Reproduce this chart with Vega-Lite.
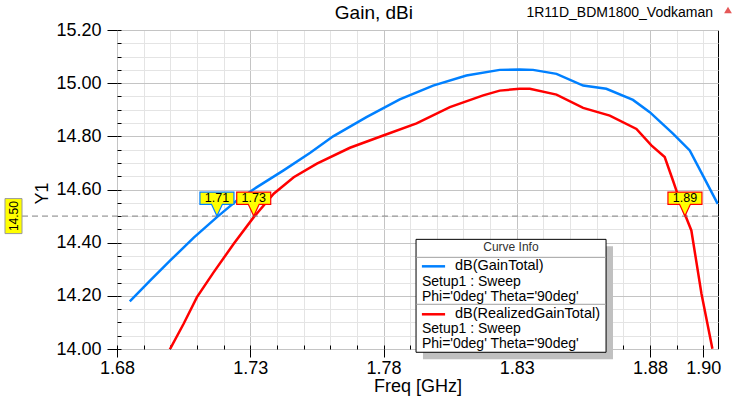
{
  "$schema": "https://vega.github.io/schema/vega-lite/v6.json",
  "width": 601,
  "height": 319,
  "autosize": {"type": "none"},
  "padding": {"left": 117, "top": 30, "right": 25, "bottom": 49},
  "background": "white",
  "config": {
    "font": "Liberation Sans",
    "view": {"stroke": "#000000", "strokeWidth": 1}
  },
  "resolve": {"axis": {"x": "independent", "y": "independent"}},
  "datasets": {
    "curves": [
      {"freq": 1.6848, "gain": 14.179, "series": "dB(GainTotal)"},
      {"freq": 1.6925, "gain": 14.258, "series": "dB(GainTotal)"},
      {"freq": 1.7000, "gain": 14.333, "series": "dB(GainTotal)"},
      {"freq": 1.7088, "gain": 14.419, "series": "dB(GainTotal)"},
      {"freq": 1.7175, "gain": 14.496, "series": "dB(GainTotal)"},
      {"freq": 1.7250, "gain": 14.559, "series": "dB(GainTotal)"},
      {"freq": 1.7325, "gain": 14.609, "series": "dB(GainTotal)"},
      {"freq": 1.7425, "gain": 14.672, "series": "dB(GainTotal)"},
      {"freq": 1.7525, "gain": 14.738, "series": "dB(GainTotal)"},
      {"freq": 1.7611, "gain": 14.800, "series": "dB(GainTotal)"},
      {"freq": 1.7736, "gain": 14.872, "series": "dB(GainTotal)"},
      {"freq": 1.7861, "gain": 14.939, "series": "dB(GainTotal)"},
      {"freq": 1.7986, "gain": 14.991, "series": "dB(GainTotal)"},
      {"freq": 1.8111, "gain": 15.029, "series": "dB(GainTotal)"},
      {"freq": 1.8236, "gain": 15.050, "series": "dB(GainTotal)"},
      {"freq": 1.8311, "gain": 15.051, "series": "dB(GainTotal)"},
      {"freq": 1.8361, "gain": 15.050, "series": "dB(GainTotal)"},
      {"freq": 1.8449, "gain": 15.035, "series": "dB(GainTotal)"},
      {"freq": 1.8549, "gain": 14.991, "series": "dB(GainTotal)"},
      {"freq": 1.8636, "gain": 14.979, "series": "dB(GainTotal)"},
      {"freq": 1.8736, "gain": 14.937, "series": "dB(GainTotal)"},
      {"freq": 1.8799, "gain": 14.891, "series": "dB(GainTotal)"},
      {"freq": 1.8886, "gain": 14.810, "series": "dB(GainTotal)"},
      {"freq": 1.8949, "gain": 14.747, "series": "dB(GainTotal)"},
      {"freq": 1.9005, "gain": 14.640, "series": "dB(GainTotal)"},
      {"freq": 1.9054, "gain": 14.546, "series": "dB(GainTotal)"},
      {"freq": 1.6998, "gain": 13.998, "series": "dB(RealizedGainTotal)"},
      {"freq": 1.7050, "gain": 14.095, "series": "dB(RealizedGainTotal)"},
      {"freq": 1.7100, "gain": 14.195, "series": "dB(RealizedGainTotal)"},
      {"freq": 1.7163, "gain": 14.289, "series": "dB(RealizedGainTotal)"},
      {"freq": 1.7238, "gain": 14.396, "series": "dB(RealizedGainTotal)"},
      {"freq": 1.7313, "gain": 14.496, "series": "dB(RealizedGainTotal)"},
      {"freq": 1.7388, "gain": 14.584, "series": "dB(RealizedGainTotal)"},
      {"freq": 1.7463, "gain": 14.646, "series": "dB(RealizedGainTotal)"},
      {"freq": 1.7550, "gain": 14.697, "series": "dB(RealizedGainTotal)"},
      {"freq": 1.7674, "gain": 14.757, "series": "dB(RealizedGainTotal)"},
      {"freq": 1.7799, "gain": 14.803, "series": "dB(RealizedGainTotal)"},
      {"freq": 1.7924, "gain": 14.849, "series": "dB(RealizedGainTotal)"},
      {"freq": 1.8049, "gain": 14.910, "series": "dB(RealizedGainTotal)"},
      {"freq": 1.8174, "gain": 14.954, "series": "dB(RealizedGainTotal)"},
      {"freq": 1.8236, "gain": 14.972, "series": "dB(RealizedGainTotal)"},
      {"freq": 1.8311, "gain": 14.979, "series": "dB(RealizedGainTotal)"},
      {"freq": 1.8349, "gain": 14.979, "series": "dB(RealizedGainTotal)"},
      {"freq": 1.8449, "gain": 14.957, "series": "dB(RealizedGainTotal)"},
      {"freq": 1.8549, "gain": 14.907, "series": "dB(RealizedGainTotal)"},
      {"freq": 1.8649, "gain": 14.878, "series": "dB(RealizedGainTotal)"},
      {"freq": 1.8749, "gain": 14.828, "series": "dB(RealizedGainTotal)"},
      {"freq": 1.8805, "gain": 14.766, "series": "dB(RealizedGainTotal)"},
      {"freq": 1.8855, "gain": 14.722, "series": "dB(RealizedGainTotal)"},
      {"freq": 1.8886, "gain": 14.634, "series": "dB(RealizedGainTotal)"},
      {"freq": 1.8899, "gain": 14.596, "series": "dB(RealizedGainTotal)"},
      {"freq": 1.8930, "gain": 14.509, "series": "dB(RealizedGainTotal)"},
      {"freq": 1.8955, "gain": 14.446, "series": "dB(RealizedGainTotal)"},
      {"freq": 1.8993, "gain": 14.208, "series": "dB(RealizedGainTotal)"},
      {"freq": 1.9034, "gain": 14.001, "series": "dB(RealizedGainTotal)"}
    ],
    "markers": [
      {"freq": 1.7175, "gain": 14.5, "label": "1.71", "series": "dB(GainTotal)"},
      {"freq": 1.7313, "gain": 14.5, "label": "1.73", "series": "dB(RealizedGainTotal)"},
      {"freq": 1.8931, "gain": 14.5, "label": "1.89", "series": "dB(RealizedGainTotal)"}
    ],
    "one": [{}]
  },
  "layer": [
    {
      "data": {"name": "curves"},
      "mark": {"type": "line", "strokeOpacity": 0, "clip": true},
      "encoding": {
        "x": {
          "field": "freq", "type": "quantitative",
          "scale": {"domain": [1.68, 1.9055], "nice": false, "zero": false},
          "axis": {
            "orient": "bottom", "title": null, "labels": false, "domain": false,
            "values": [1.68,1.69,1.70,1.71,1.72,1.73,1.74,1.75,1.76,1.77,1.78,1.79,1.80,1.81,1.82,1.83,1.84,1.85,1.86,1.87,1.88,1.89,1.90],
            "ticks": true, "tickSize": -4, "tickColor": "#000000",
            "grid": true, "gridColor": "#e4e4e4", "gridWidth": 1
          }
        },
        "y": {
          "field": "gain", "type": "quantitative",
          "scale": {"domain": [14.0, 15.2], "nice": false, "zero": false},
          "axis": {
            "orient": "left", "title": null, "labels": false, "domain": false,
            "values": [14.0,14.05,14.1,14.15,14.2,14.25,14.3,14.35,14.4,14.45,14.5,14.55,14.6,14.65,14.7,14.75,14.8,14.85,14.9,14.95,15.0,15.05,15.1,15.15,15.2],
            "ticks": true, "tickSize": -4, "tickColor": "#000000",
            "grid": true, "gridColor": "#e4e4e4", "gridWidth": 1
          }
        }
      }
    },
    {
      "data": {"name": "curves"},
      "mark": {"type": "line", "strokeWidth": 2.5, "clip": true},
      "encoding": {
        "x": {
          "field": "freq", "type": "quantitative",
          "axis": {
            "orient": "bottom",
            "title": "Freq [GHz]",
            "titleFontSize": 18, "titleFontWeight": "normal", "titleColor": "#000000",
            "titleY": 37, "titleBaseline": "middle",
            "values": [1.68, 1.73, 1.78, 1.83, 1.88, 1.90],
            "format": ".2f",
            "labelFontSize": 18, "labelColor": "#000000", "labelPadding": 2, "labelFlush": false, "labelOverlap": false,
            "domain": false,
            "tickSize": 8, "tickColor": "#000000",
            "grid": true,
            "gridColor": {"condition": {"test": "round(datum.value*100) == 190", "value": "#e4e4e4"}, "value": "#c4c4c4"},
            "gridWidth": 1
          }
        },
        "y": {
          "field": "gain", "type": "quantitative",
          "axis": {
            "orient": "left",
            "title": "Y1",
            "titleFontSize": 18, "titleFontWeight": "normal", "titleColor": "#000000",
            "titleAngle": 270, "titleX": -75, "titleY": 163, "titleAlign": "center", "titleBaseline": "middle",
            "values": [14.0, 14.2, 14.4, 14.6, 14.8, 15.0, 15.2],
            "format": ".2f",
            "labelFontSize": 18, "labelColor": "#000000", "labelPadding": 6, "labelFlush": false, "labelOverlap": false,
            "domain": false,
            "tickSize": 10, "tickColor": "#000000",
            "grid": true, "gridColor": "#c4c4c4", "gridWidth": 1
          }
        },
        "color": {
          "field": "series", "type": "nominal",
          "scale": {"domain": ["dB(GainTotal)", "dB(RealizedGainTotal)"], "range": ["#0080ff", "#ff0000"]},
          "legend": null
        }
      }
    },
    {
      "data": {"name": "one"},
      "mark": {"type": "rule", "color": "#808080", "strokeWidth": 1, "strokeDash": [6, 4], "xOffset": -95},
      "encoding": {
        "x": {"datum": 1.68, "type": "quantitative", "axis": null},
        "x2": {"datum": 1.9055},
        "y": {"datum": 14.5, "type": "quantitative", "axis": null}
      }
    },
    {
      "data": {"name": "one"},
      "mark": {"type": "point", "shape": "M-0.486,-1L0.486,-1L0.486,1L-0.486,1Z", "size": 1225, "filled": true, "fill": "#ffff00", "stroke": "#9a9a9a", "strokeWidth": 1, "opacity": 1, "xOffset": -103.5},
      "encoding": {
        "x": {"datum": 1.68, "type": "quantitative", "axis": null},
        "y": {"datum": 14.5, "type": "quantitative", "axis": null}
      }
    },
    {
      "data": {"name": "one"},
      "mark": {"type": "text", "text": "14.50", "angle": 270, "fontSize": 12, "color": "#000000", "align": "center", "baseline": "middle", "xOffset": -103.5},
      "encoding": {
        "x": {"datum": 1.68, "type": "quantitative", "axis": null},
        "y": {"datum": 14.5, "type": "quantitative", "axis": null}
      }
    },
    {
      "data": {"name": "one"},
      "mark": {"type": "rect", "color": "#c0c0c0"},
      "encoding": {
        "x": {"datum": 1.7948, "type": "quantitative", "axis": null},
        "x2": {"datum": 1.8661},
        "y": {"datum": 14.3862, "type": "quantitative", "axis": null},
        "y2": {"datum": 13.9614}
      }
    },
    {
      "data": {"name": "one"},
      "mark": {"type": "rect", "fill": "#ffffff", "stroke": "#000000", "strokeWidth": 1},
      "encoding": {
        "x": {"datum": 1.7922, "type": "quantitative", "axis": null},
        "x2": {"datum": 1.8635},
        "y": {"datum": 14.4125, "type": "quantitative", "axis": null},
        "y2": {"datum": 13.9877}
      }
    },
    {
      "data": {"name": "one"},
      "mark": {"type": "rule", "color": "#a0a0a0", "strokeWidth": 1},
      "encoding": {
        "x": {"datum": 1.7922, "type": "quantitative", "axis": null},
        "x2": {"datum": 1.8635},
        "y": {"datum": 14.3448, "type": "quantitative", "axis": null}
      }
    },
    {
      "data": {"name": "one"},
      "mark": {"type": "rule", "color": "#a0a0a0", "strokeWidth": 1},
      "encoding": {
        "x": {"datum": 1.7922, "type": "quantitative", "axis": null},
        "x2": {"datum": 1.8635},
        "y": {"datum": 14.1682, "type": "quantitative", "axis": null}
      }
    },
    {
      "data": {"name": "one"},
      "mark": {"type": "rule", "color": "#0080ff", "strokeWidth": 2.5},
      "encoding": {
        "x": {"datum": 1.7944, "type": "quantitative", "axis": null},
        "x2": {"datum": 1.8031},
        "y": {"datum": 14.3110, "type": "quantitative", "axis": null}
      }
    },
    {
      "data": {"name": "one"},
      "mark": {"type": "rule", "color": "#ff0000", "strokeWidth": 2.5},
      "encoding": {
        "x": {"datum": 1.7944, "type": "quantitative", "axis": null},
        "x2": {"datum": 1.8031},
        "y": {"datum": 14.1306, "type": "quantitative", "axis": null}
      }
    },
    {
      "data": {"name": "one"},
      "mark": {"type": "text", "text": "Curve Info", "fontSize": 12, "color": "#303030", "align": "center", "baseline": "middle"},
      "encoding": {
        "x": {"datum": 1.8278, "type": "quantitative", "axis": null},
        "y": {"datum": 14.3824, "type": "quantitative", "axis": null}
      }
    },
    {
      "data": {"name": "one"},
      "mark": {"type": "text", "text": "dB(GainTotal)", "fontSize": 14.5, "color": "#000000", "align": "left", "baseline": "middle"},
      "encoding": {
        "x": {"datum": 1.8068, "type": "quantitative", "axis": null},
        "y": {"datum": 14.3110, "type": "quantitative", "axis": null}
      }
    },
    {
      "data": {"name": "one"},
      "mark": {"type": "text", "text": ["Setup1 : Sweep", "Phi='0deg' Theta='90deg'"], "fontSize": 14, "lineHeight": 15, "color": "#000000", "align": "left", "baseline": "top", "yOffset": -7.5},
      "encoding": {
        "x": {"datum": 1.7944, "type": "quantitative", "axis": null},
        "y": {"datum": 14.2509, "type": "quantitative", "axis": null}
      }
    },
    {
      "data": {"name": "one"},
      "mark": {"type": "text", "text": "dB(RealizedGainTotal)", "fontSize": 14.5, "color": "#000000", "align": "left", "baseline": "middle"},
      "encoding": {
        "x": {"datum": 1.8068, "type": "quantitative", "axis": null},
        "y": {"datum": 14.1306, "type": "quantitative", "axis": null}
      }
    },
    {
      "data": {"name": "one"},
      "mark": {"type": "text", "text": ["Setup1 : Sweep", "Phi='0deg' Theta='90deg'"], "fontSize": 14, "lineHeight": 15, "color": "#000000", "align": "left", "baseline": "top", "yOffset": -7.5},
      "encoding": {
        "x": {"datum": 1.7944, "type": "quantitative", "axis": null},
        "y": {"datum": 14.0742, "type": "quantitative", "axis": null}
      }
    },
    {
      "data": {"name": "markers"},
      "mark": {"type": "point", "shape": "M-1,-1.41L1,-1.41L1,-0.69L0.32,-0.69L0,0L-0.32,-0.69L-1,-0.69Z", "size": 1156, "filled": true, "fill": "#ffff00", "strokeWidth": 1.2, "opacity": 1},
      "encoding": {
        "x": {"field": "freq", "type": "quantitative", "axis": null},
        "y": {"field": "gain", "type": "quantitative", "axis": null},
        "stroke": {
          "field": "series", "type": "nominal",
          "scale": {"domain": ["dB(GainTotal)", "dB(RealizedGainTotal)"], "range": ["#0080ff", "#ff0000"]},
          "legend": null
        }
      }
    },
    {
      "data": {"name": "markers"},
      "mark": {"type": "text", "fontSize": 12.5, "color": "#000000", "align": "center", "baseline": "middle", "dy": -18},
      "encoding": {
        "x": {"field": "freq", "type": "quantitative", "axis": null},
        "y": {"field": "gain", "type": "quantitative", "axis": null},
        "text": {"field": "label", "type": "nominal"}
      }
    },
    {
      "data": {"name": "one"},
      "mark": {"type": "text", "text": "Gain, dBi", "fontSize": 19, "color": "#000000", "align": "center", "baseline": "middle", "yOffset": -17.5},
      "encoding": {
        "x": {"datum": 1.7764, "type": "quantitative", "axis": null},
        "y": {"datum": 15.2, "type": "quantitative", "axis": null}
      }
    },
    {
      "data": {"name": "one"},
      "mark": {"type": "text", "text": "1R11D_BDM1800_Vodkaman", "fontSize": 14, "color": "#000000", "align": "right", "baseline": "middle", "xOffset": -5, "yOffset": -17.5},
      "encoding": {
        "x": {"datum": 1.9055, "type": "quantitative", "axis": null},
        "y": {"datum": 15.2, "type": "quantitative", "axis": null}
      }
    },
    {
      "data": {"name": "one"},
      "mark": {"type": "point", "shape": "triangle-up", "size": 60, "filled": true, "color": "#e03a3a", "opacity": 0.85, "xOffset": 10, "yOffset": -20},
      "encoding": {
        "x": {"datum": 1.9055, "type": "quantitative", "axis": null},
        "y": {"datum": 15.2, "type": "quantitative", "axis": null}
      }
    }
  ]
}
